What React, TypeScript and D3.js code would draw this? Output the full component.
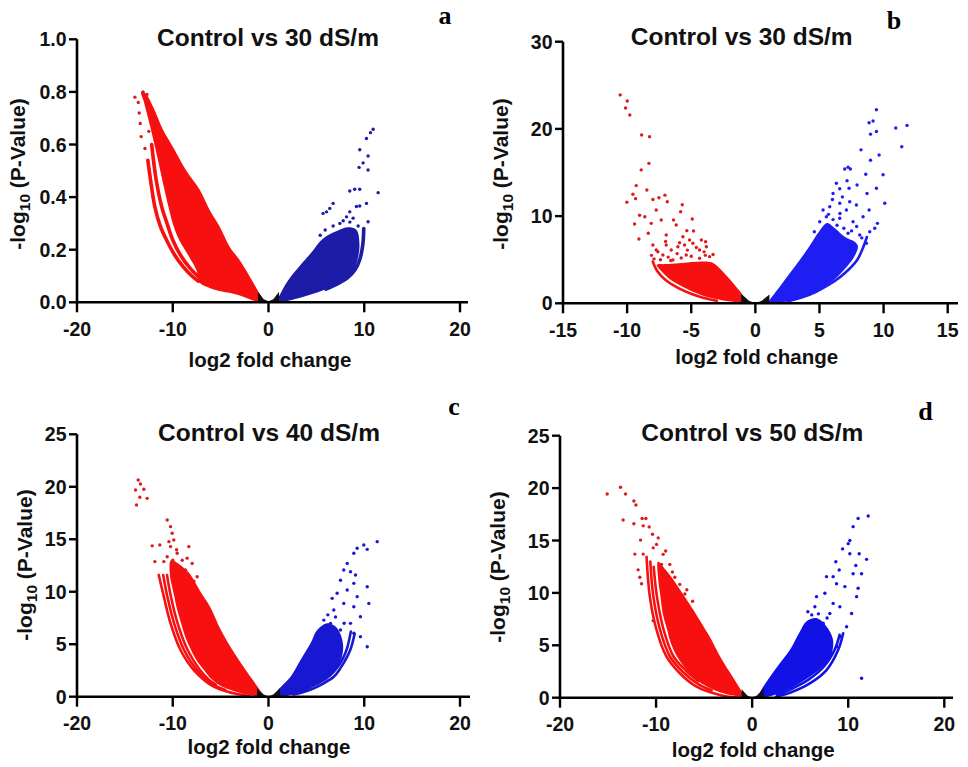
import React from "react";
import * as d3 from "d3";

type Pt = [number, number];

// ---- panel a: Control vs 30 dS/m (-log10 P up to 1.0) ----
const aRedArea: Pt[] = [
  [-13.3, 0.8], [-12.9, 0.797], [-12.05, 0.744], [-11.0, 0.655], [-9.96, 0.59], [-8.57, 0.5],
  [-7.17, 0.427], [-6.13, 0.35], [-5.09, 0.287], [-4.04, 0.21], [-3.0, 0.16], [-1.95, 0.097],
  [-0.9, 0.03], [-0.5, 0.002], [-0.9, 0.0], [-3.35, 0.03], [-5.8, 0.05], [-7.2, 0.075],
  [-7.5, 0.12], [-8.4, 0.18], [-9.33, 0.237], [-10.0, 0.3], [-10.45, 0.363], [-11.0, 0.45],
  [-11.6, 0.55], [-12.3, 0.66], [-13.0, 0.76],
];
const aRedBands: Pt[][] = [
  [[-12.6, 0.54], [-12.3, 0.46], [-11.87, 0.363], [-11.3, 0.29], [-10.65, 0.237], [-9.8, 0.18],
   [-8.9, 0.135], [-8.0, 0.1], [-7.3, 0.08]],
  [[-12.2, 0.6], [-11.75, 0.47], [-11.15, 0.363], [-10.6, 0.3], [-10.0, 0.237], [-9.2, 0.18],
   [-8.2, 0.13], [-7.4, 0.1]],
];
const aRedDots: Pt[] = [
  [-13.95, 0.78], [-13.6, 0.76], [-13.4, 0.68], [-13.3, 0.63], [-12.9, 0.585], [-12.05, 0.4],
  [-13.1, 0.8], [-12.7, 0.79], [-12.5, 0.65], [-13.5, 0.72],
];
const aBlueArea: Pt[] = [
  [0.8, 0.0], [1.0, 0.015], [1.9, 0.075], [2.6, 0.11], [3.4, 0.145], [4.5, 0.19], [5.4, 0.232],
  [6.2, 0.255], [7.2, 0.272], [8.3, 0.285], [9.2, 0.275], [9.5, 0.22], [9.35, 0.17], [8.9, 0.125],
  [8.1, 0.09], [6.75, 0.062], [5.0, 0.036], [3.0, 0.014], [1.3, 0.0],
];
const aBlueBands: Pt[][] = [
  [[9.95, 0.28], [9.85, 0.22], [9.55, 0.165], [9.05, 0.125], [8.3, 0.095], [7.2, 0.07], [6.0, 0.05]],
];
const aBlueDots: Pt[] = [
  [10.93, 0.658], [10.65, 0.645], [10.23, 0.623], [9.53, 0.58], [10.4, 0.556], [9.88, 0.53],
  [9.46, 0.513], [10.4, 0.503], [11.45, 0.417], [9.53, 0.43], [9.0, 0.43], [8.49, 0.423],
  [10.23, 0.376], [9.53, 0.366], [9.18, 0.364], [10.4, 0.306], [6.75, 0.376], [6.4, 0.357],
  [6.06, 0.344], [5.7, 0.338], [8.49, 0.344], [8.15, 0.325], [8.84, 0.32], [7.45, 0.3],
  [6.75, 0.29], [5.92, 0.275], [5.4, 0.255], [8.5, 0.305], [9.36, 0.29], [7.8, 0.31],
];
const aBlack: Pt[] = [[-1.1, 0.04], [-0.5, 0.012], [0, 0.004], [0.5, 0.012], [1.1, 0.04], [1.1, 0], [-1.1, 0]];

// ---- panel b: Control vs 30 dS/m (-log10 P up to 30) ----
const bRedArea: Pt[] = [
  [-7.7, 4.4], [-7.0, 4.5], [-6.0, 4.6], [-5.0, 4.75], [-4.0, 4.8], [-3.4, 4.7], [-3.0, 4.3],
  [-2.2, 3.1], [-1.5, 1.9], [-1.0, 0.9], [-1.0, 0.0], [-1.3, 0.08], [-3.1, 0.5], [-4.4, 1.05],
  [-5.6, 1.85], [-6.7, 2.8], [-7.4, 3.8],
];
const bRedBands: Pt[][] = [
  [[-8.0, 4.8], [-7.65, 3.7], [-7.0, 2.67], [-6.0, 1.75], [-5.0, 1.1], [-4.0, 0.6], [-3.0, 0.28]],
];
const bRedDots: Pt[] = [
  [-10.54, 23.9], [-9.99, 23.2], [-10.12, 22.4], [-9.79, 21.6], [-8.87, 19.3], [-8.25, 19.1],
  [-8.3, 16.05], [-8.9, 15.3], [-9.29, 13.5], [-8.46, 13.0], [-9.55, 12.5], [-9.34, 12.0],
  [-10.02, 11.6], [-7.99, 11.9], [-7.52, 12.1], [-7.05, 12.4], [-6.87, 11.65], [-9.03, 10.1],
  [-8.62, 9.93], [-7.73, 10.7], [-8.12, 9.17], [-7.34, 9.55], [-9.42, 9.1], [-5.7, 11.3],
  [-5.83, 10.5], [-6.38, 9.55], [-6.17, 8.98], [-4.92, 9.67], [-8.35, 8.03], [-9.08, 7.37],
  [-7.99, 6.69], [-6.95, 7.83], [-5.34, 8.33], [-4.82, 8.29], [-5.13, 7.26], [-5.65, 7.64],
  [-4.21, 7.26], [-3.88, 7.07], [-7.6, 5.92], [-7.21, 5.54], [-6.56, 6.11], [-6.04, 6.49],
  [-5.52, 6.69], [-4.87, 6.88], [-4.35, 6.11], [-3.82, 6.49], [-5.39, 5.54], [-6.43, 4.97],
  [-4.35, 5.16], [-3.57, 5.35], [-5.78, 5.2], [-7.73, 6.11], [-6.95, 6.69], [-5.91, 6.95],
  [-3.3, 5.6], [-8.1, 5.5], [-7.0, 7.1], [-7.4, 5.0], [-6.8, 5.3], [-6.1, 5.7], [-5.0, 5.4],
  [-4.6, 6.4], [-3.9, 5.5], [-6.6, 4.9], [-5.3, 6.1], [-4.0, 5.9], [-7.9, 5.1],
];
const bBlueArea: Pt[] = [
  [1.0, 0.0], [1.12, 0.38], [1.9, 1.9], [2.68, 3.44], [3.46, 4.97], [4.24, 6.6], [5.0, 8.3],
  [5.6, 9.2], [6.2, 8.6], [7.0, 7.6], [7.8, 7.0], [8.0, 6.5], [7.7, 5.3], [7.2, 4.3],
  [6.5, 3.2], [5.5, 2.0], [4.5, 1.15], [3.0, 0.4], [2.0, 0.08],
];
const bBlueBands: Pt[][] = [
  [[8.7, 7.6], [8.35, 6.2], [7.95, 5.0], [7.3, 3.9], [6.6, 3.0], [5.7, 2.1], [4.7, 1.3], [3.6, 0.65], [2.5, 0.2]],
];
const bBlueDots: Pt[] = [
  [9.44, 22.2], [9.18, 20.9], [8.87, 20.7], [9.44, 19.7], [8.98, 19.4], [10.95, 20.1],
  [11.83, 20.4], [11.42, 17.96], [8.24, 17.6], [9.65, 17.0], [8.98, 16.4], [7.23, 15.6],
  [6.97, 15.4], [7.41, 15.4], [8.61, 14.8], [9.96, 14.75], [7.15, 14.06], [6.32, 13.76],
  [6.58, 13.14], [7.31, 13.19], [7.93, 13.57], [9.44, 13.19], [8.71, 12.6], [6.06, 12.6],
  [6.79, 12.2], [7.36, 11.65], [7.88, 11.27], [10.09, 11.47], [6.01, 11.9], [6.58, 11.47],
  [8.87, 10.7], [7.1, 10.7], [8.4, 9.93], [9.52, 9.17], [7.62, 9.36], [6.58, 9.75],
  [6.06, 9.6], [8.92, 8.21], [8.14, 7.83], [9.31, 8.6], [7.23, 8.03], [8.66, 6.88],
  [6.37, 8.95], [5.54, 9.93], [5.28, 10.7], [5.8, 11.08], [5.02, 9.36], [6.9, 8.6],
  [7.5, 8.3], [5.7, 10.2], [7.9, 8.8], [6.6, 10.3], [4.6, 8.2], [8.3, 7.5],
];
const bBlack: Pt[] = [[-1.1, 1.1], [-0.5, 0.3], [0, 0.02], [0.5, 0.3], [1.1, 1.0], [1.1, 0], [-1.1, 0]];

// ---- panel c: Control vs 40 dS/m ----
const cRedArea: Pt[] = [
  [-10.2, 13.0], [-9.3, 12.6], [-8.3, 11.8], [-7.1, 10.0], [-6.06, 8.5], [-5.0, 6.4], [-3.6, 4.2],
  [-2.2, 2.3], [-1.0, 0.75], [-0.6, 0.05], [-1.2, 0.05], [-3.5, 0.5], [-5.2, 1.15], [-6.1, 1.8],
  [-6.7, 2.5], [-7.4, 3.3], [-8.09, 4.45], [-8.7, 5.7], [-9.13, 6.99], [-9.55, 8.3], [-9.83, 9.53],
  [-10.1, 10.6], [-10.3, 11.6],
];
const cRedBands: Pt[][] = [
  [[-11.46, 11.6], [-10.93, 9.53], [-10.23, 6.99], [-9.19, 4.45], [-7.8, 2.54], [-5.71, 0.95], [-3.62, 0.32], [-2.0, 0.08]],
  [[-11.0, 11.6], [-10.56, 9.53], [-9.86, 6.99], [-8.82, 4.45], [-7.5, 2.55], [-6.0, 1.25], [-4.5, 0.65]],
  [[-10.6, 11.6], [-10.19, 9.53], [-9.49, 6.99], [-8.45, 4.45], [-7.2, 2.6], [-6.2, 1.6], [-5.5, 1.15]],
];
const cRedDots: Pt[] = [
  [-13.61, 20.64], [-13.37, 20.27], [-13.89, 19.7], [-13.02, 19.76], [-12.67, 18.9],
  [-13.79, 18.26], [-13.44, 19.0], [-10.58, 16.84], [-12.15, 14.37], [-11.35, 14.46],
  [-10.23, 16.2], [-10.06, 15.57], [-9.89, 14.93], [-11.87, 12.87], [-10.93, 12.87],
  [-10.23, 14.3], [-9.54, 13.66], [-9.01, 13.0], [-9.89, 12.7], [-8.67, 12.07], [-9.19, 11.75],
  [-8.32, 14.3], [-10.58, 13.34], [-7.97, 12.7], [-7.45, 11.43], [-10.4, 14.77], [-9.3, 12.4],
  [-8.5, 13.2], [-10.0, 13.0], [-7.8, 11.0], [-9.6, 14.0],
];
const cBlueArea: Pt[] = [
  [0.9, 0.0], [0.91, 0.48], [2.3, 1.9], [3.34, 3.5], [4.39, 5.09], [5.08, 6.35], [6.13, 7.0],
  [7.0, 6.7], [7.5, 6.0], [7.8, 4.8], [7.6, 3.6], [6.9, 2.5], [5.8, 1.6], [4.5, 0.95], [3.0, 0.35], [2.0, 0.08],
];
const cBlueBands: Pt[][] = [
  [[9.0, 6.0], [8.6, 4.6], [8.22, 3.81], [7.5, 2.7], [6.82, 1.9], [5.8, 1.3], [4.73, 0.8], [3.5, 0.4], [2.6, 0.2]],
  [[8.6, 6.2], [8.2, 4.6], [7.8, 3.7], [7.2, 2.8], [6.4, 2.0], [5.4, 1.4], [4.4, 0.95], [3.3, 0.5]],
];
const cBlueDots: Pt[] = [
  [11.35, 14.77], [10.31, 14.04], [9.95, 14.45], [9.26, 14.14], [8.91, 13.66], [8.22, 12.7],
  [8.56, 11.9], [9.09, 11.6], [7.86, 12.07], [7.52, 11.1], [8.91, 10.8], [10.31, 10.48],
  [10.48, 8.89], [8.22, 10.16], [7.17, 9.85], [6.65, 9.37], [9.26, 9.53], [7.86, 8.89],
  [8.91, 8.57], [6.82, 8.26], [9.6, 7.62], [8.56, 6.99], [7.52, 6.35], [8.91, 6.04],
  [9.6, 5.72], [10.31, 4.76], [6.47, 6.99], [5.78, 7.3], [7.0, 7.6], [6.2, 7.8], [7.9, 7.0],
];
const cBlack: Pt[] = [[-1.2, 0.8], [-0.5, 0.2], [0, 0.02], [0.5, 0.2], [1.2, 0.8], [1.2, 0], [-1.2, 0]];

// ---- panel d: Control vs 50 dS/m ----
const dRedArea: Pt[] = [
  [-9.8, 13.0], [-9.0, 12.2], [-8.0, 11.0], [-7.0, 9.6], [-6.0, 8.2], [-5.0, 6.7], [-4.4, 5.8],
  [-3.0, 3.4], [-1.62, 1.4], [-0.8, 0.05], [-0.9, 0.05], [-3.3, 0.5], [-5.0, 1.2], [-6.0, 1.85],
  [-6.7, 2.5], [-7.8, 3.91], [-8.5, 5.3], [-8.84, 6.46], [-9.3, 8.0], [-9.54, 9.64], [-9.8, 11.5],
];
const dRedBands: Pt[][] = [
  [[-10.99, 13.45], [-10.65, 9.64], [-9.95, 6.46], [-8.91, 3.91], [-7.53, 2.33], [-5.79, 1.05], [-3.36, 0.26], [-1.5, 0.02]],
  [[-10.6, 13.0], [-10.28, 9.64], [-9.58, 6.46], [-8.54, 3.91], [-7.15, 2.4], [-5.6, 1.3], [-4.2, 0.7]],
  [[-10.25, 12.5], [-9.91, 9.64], [-9.21, 6.46], [-8.17, 3.91], [-6.9, 2.6], [-5.6, 1.6]],
];
const dRedDots: Pt[] = [
  [-15.09, 19.44], [-13.7, 20.08], [-13.18, 19.44], [-13.43, 16.96], [-12.31, 18.77],
  [-12.1, 18.39], [-11.45, 17.1], [-11.06, 17.1], [-12.31, 16.6], [-11.34, 16.4], [-10.72, 16.3],
  [-10.37, 15.6], [-11.62, 15.04], [-12.21, 13.7], [-11.34, 13.7], [-11.87, 12.2], [-11.69, 11.5],
  [-11.51, 10.87], [-10.3, 7.35], [-9.95, 14.63], [-9.26, 13.68], [-9.43, 12.72], [-8.57, 12.72],
  [-8.91, 11.8], [-8.05, 11.5], [-7.53, 10.81], [-10.3, 14.3], [-9.78, 15.25], [-7.87, 10.2],
  [-7.0, 9.9], [-9.0, 14.0], [-8.3, 12.0], [-6.8, 10.3], [-6.2, 9.2],
];
const dBlueArea: Pt[] = [
  [0.8, 0.0], [0.8, 0.42], [1.84, 1.98], [2.88, 3.28], [3.92, 4.55], [4.96, 6.3], [5.66, 7.3],
  [6.7, 7.6], [7.74, 6.8], [8.4, 5.6], [8.3, 4.3], [7.5, 3.1], [6.0, 2.0], [4.0, 0.9], [2.5, 0.3], [1.5, 0.05],
];
const dBlueBands: Pt[][] = [
  [[9.47, 6.14], [8.95, 4.55], [7.74, 2.64], [6.0, 1.37], [4.0, 0.5], [2.5, 0.1]],
  [[9.1, 6.0], [8.6, 4.6], [7.5, 3.0], [5.9, 1.75], [4.0, 0.8], [2.6, 0.25]],
];
const dBlueDots: Pt[] = [
  [12.08, 17.34], [11.03, 17.11], [10.51, 16.32], [11.91, 13.2], [11.14, 13.74], [10.0, 14.7],
  [10.17, 15.0], [9.41, 14.2], [10.17, 13.74], [10.79, 12.62], [10.51, 11.83], [11.39, 11.83],
  [8.71, 12.97], [9.06, 12.18], [8.43, 11.55], [7.74, 11.55], [8.78, 10.87], [9.65, 10.6],
  [11.03, 10.44], [10.87, 9.64], [7.57, 9.96], [8.43, 9.0], [6.7, 9.64], [6.53, 8.68],
  [9.13, 8.68], [10.35, 8.04], [8.09, 8.04], [9.83, 6.77], [9.13, 5.82], [8.78, 4.87],
  [11.39, 1.85], [7.39, 7.1], [6.9, 8.0], [7.8, 7.6], [6.2, 7.9], [5.8, 8.2],
];
const dBlack: Pt[] = [[-1.1, 0.8], [-0.5, 0.2], [0, 0.02], [0.5, 0.2], [1.2, 0.9], [1.2, 0], [-1.1, 0]];

const titles = ["Control vs 30 dS/m", "Control vs 30 dS/m", "Control vs 40 dS/m", "Control vs 50 dS/m"];
const letters = ["a", "b", "c", "d"];
const xTicksWide = [-20, -10, 0, 10, 20];
const xTicksB = [-15, -10, -5, 0, 5, 10, 15];
const yTicksA = [0, 0.2, 0.4, 0.6, 0.8, 1.0];
const yTicksB = [0, 10, 20, 30];
const yTicksCD = [0, 5, 10, 15, 20, 25];

const RED = "#f80f0f";
const RED_DOT = "#dc1c1c";

const panels = [
  {
    title: titles[0], letter: letters[0], xDomain: [-20, 20], yDomain: [0, 1],
    xTicks: xTicksWide, yTicks: yTicksA, yFmt: d3.format(".1f"),
    redArea: aRedArea, redBands: aRedBands, redDots: aRedDots,
    blueArea: aBlueArea, blueBands: aBlueBands, blueDots: aBlueDots, black: aBlack,
    blue: "#1c1ca8", bandW: 3.6,
    box: { x0: 77, x1: 460, xEnd: 468, y0: 302.3, y1: 39.3 },
    titlePos: [268, 45.5], letterPos: [445, 23.5], xTitlePos: [270, 366.5], yTitlePos: [25, 174],
  },
  {
    title: titles[1], letter: letters[1], xDomain: [-15, 15], yDomain: [0, 30],
    xTicks: xTicksB, yTicks: yTicksB, yFmt: d3.format("d"),
    redArea: bRedArea, redBands: bRedBands, redDots: bRedDots,
    blueArea: bBlueArea, blueBands: bBlueBands, blueDots: bBlueDots, black: bBlack,
    blue: "#1e1ef2", bandW: 2.6,
    box: { x0: 563, x1: 947.7, xEnd: 958, y0: 303.3, y1: 41.7 },
    titlePos: [741.7, 45], letterPos: [894, 28.5], xTitlePos: [756.7, 363.5], yTitlePos: [508, 174],
  },
  {
    title: titles[2], letter: letters[2], xDomain: [-20, 20], yDomain: [0, 25],
    xTicks: xTicksWide, yTicks: yTicksCD, yFmt: d3.format("d"),
    redArea: cRedArea, redBands: cRedBands, redDots: cRedDots,
    blueArea: cBlueArea, blueBands: cBlueBands, blueDots: cBlueDots, black: cBlack,
    blue: "#1818d2", bandW: 2.6,
    box: { x0: 77, x1: 460, xEnd: 470, y0: 696.7, y1: 434.3 },
    titlePos: [269, 440.5], letterPos: [454, 415], xTitlePos: [269, 753.5], yTitlePos: [32, 565],
  },
  {
    title: titles[3], letter: letters[3], xDomain: [-20, 20], yDomain: [0, 25],
    xTicks: xTicksWide, yTicks: yTicksCD, yFmt: d3.format("d"),
    redArea: dRedArea, redBands: dRedBands, redDots: dRedDots,
    blueArea: dBlueArea, blueBands: dBlueBands, blueDots: dBlueDots, black: dBlack,
    blue: "#1212e6", bandW: 2.6,
    box: { x0: 560, x1: 944.3, xEnd: 953, y0: 697.7, y1: 435.7 },
    titlePos: [752.3, 440.5], letterPos: [925.5, 419.5], xTitlePos: [753.3, 756.5], yTitlePos: [505, 567],
  },
];

const SANS = "'Liberation Sans', Arial, Helvetica, sans-serif";
const SERIF = "'Liberation Serif', 'Times New Roman', serif";

function Panel({ p }: { p: (typeof panels)[number] }) {
  const { box } = p;
  const x = d3.scaleLinear().domain(p.xDomain).range([box.x0, box.x1]);
  const y = d3.scaleLinear().domain(p.yDomain).range([box.y0, box.y1]);
  const area = d3.line<Pt>().x((d) => x(d[0])).y((d) => y(d[1])).curve(d3.curveCatmullRomClosed.alpha(0.5));
  const poly = d3.line<Pt>().x((d) => x(d[0])).y((d) => y(d[1])).curve(d3.curveLinearClosed);
  const band = d3.line<Pt>().x((d) => x(d[0])).y((d) => y(d[1])).curve(d3.curveCatmullRom.alpha(0.5));
  const axisX = x(p.xDomain[0]);
  const tickLen = 8;

  return (
    <g>
      {/* red (down) */}
      <path d={area(p.redArea) ?? ""} fill={RED} />
      {p.redBands.map((b, i) => (
        <path key={"rb" + i} d={band(b) ?? ""} fill="none" stroke={RED} strokeWidth={p.bandW} strokeLinecap="round" />
      ))}
      {p.redDots.map((d, i) => (
        <circle key={"rd" + i} cx={x(d[0])} cy={y(d[1])} r={1.7} fill={RED_DOT} />
      ))}
      {/* blue (up) */}
      <path d={area(p.blueArea) ?? ""} fill={p.blue} />
      {p.blueBands.map((b, i) => (
        <path key={"bb" + i} d={band(b) ?? ""} fill="none" stroke={p.blue} strokeWidth={p.bandW} strokeLinecap="round" />
      ))}
      {p.blueDots.map((d, i) => (
        <circle key={"bd" + i} cx={x(d[0])} cy={y(d[1])} r={1.7} fill={p.blue} />
      ))}
      {/* not significant */}
      <path d={poly(p.black) ?? ""} fill="#111" />

      {/* axes */}
      <line x1={axisX} x2={box.xEnd} y1={box.y0} y2={box.y0} stroke="#000" strokeWidth={2.6} />
      <line x1={axisX} x2={axisX} y1={box.y0 + 1.3} y2={box.y1} stroke="#000" strokeWidth={2.6} />
      {p.xTicks.map((t) => (
        <g key={"xt" + t}>
          <line x1={x(t)} x2={x(t)} y1={box.y0} y2={box.y0 + tickLen + 2} stroke="#000" strokeWidth={2.4} />
          <text x={x(t)} y={box.y0 + 33.5} textAnchor="middle" fontFamily={SANS} fontWeight="bold" fontSize={19.5} fill="#111">
            {t}
          </text>
        </g>
      ))}
      {p.yTicks.map((t) => (
        <g key={"yt" + t}>
          <line x1={axisX - tickLen} x2={axisX} y1={y(t)} y2={y(t)} stroke="#000" strokeWidth={2.4} />
          <text x={axisX - 10.5} y={y(t)} dy="0.36em" textAnchor="end" fontFamily={SANS} fontWeight="bold" fontSize={19.5} fill="#111">
            {p.yFmt(t)}
          </text>
        </g>
      ))}

      {/* titles */}
      <text x={p.titlePos[0]} y={p.titlePos[1]} textAnchor="middle" fontFamily={SANS} fontWeight="bold" fontSize={24.5} fill="#111">
        {p.title}
      </text>
      <text x={p.xTitlePos[0]} y={p.xTitlePos[1]} textAnchor="middle" fontFamily={SANS} fontWeight="bold" fontSize={20.5} fill="#111">
        log2 fold change
      </text>
      <text
        transform={`translate(${p.yTitlePos[0]},${p.yTitlePos[1]}) rotate(-90)`}
        textAnchor="middle"
        fontFamily={SANS}
        fontWeight="bold"
        fontSize={21}
        fill="#111"
      >
        -log
        <tspan dy={5} fontSize={15.5}>10</tspan>
        <tspan dy={-5}> (P-Value)</tspan>
      </text>
      <text x={p.letterPos[0]} y={p.letterPos[1]} textAnchor="middle" fontFamily={SERIF} fontWeight="bold" fontSize={26} fill="#000">
        {p.letter}
      </text>
    </g>
  );
}

export default function App() {
  return (
    <svg
      width={968}
      height={767}
      viewBox="0 0 968 767"
      style={{ position: "absolute", left: 0, top: 0, background: "#fff" }}
    >
      <rect width={968} height={767} fill="#fff" />
      {panels.map((p, i) => (
        <Panel key={i} p={p} />
      ))}
    </svg>
  );
}
